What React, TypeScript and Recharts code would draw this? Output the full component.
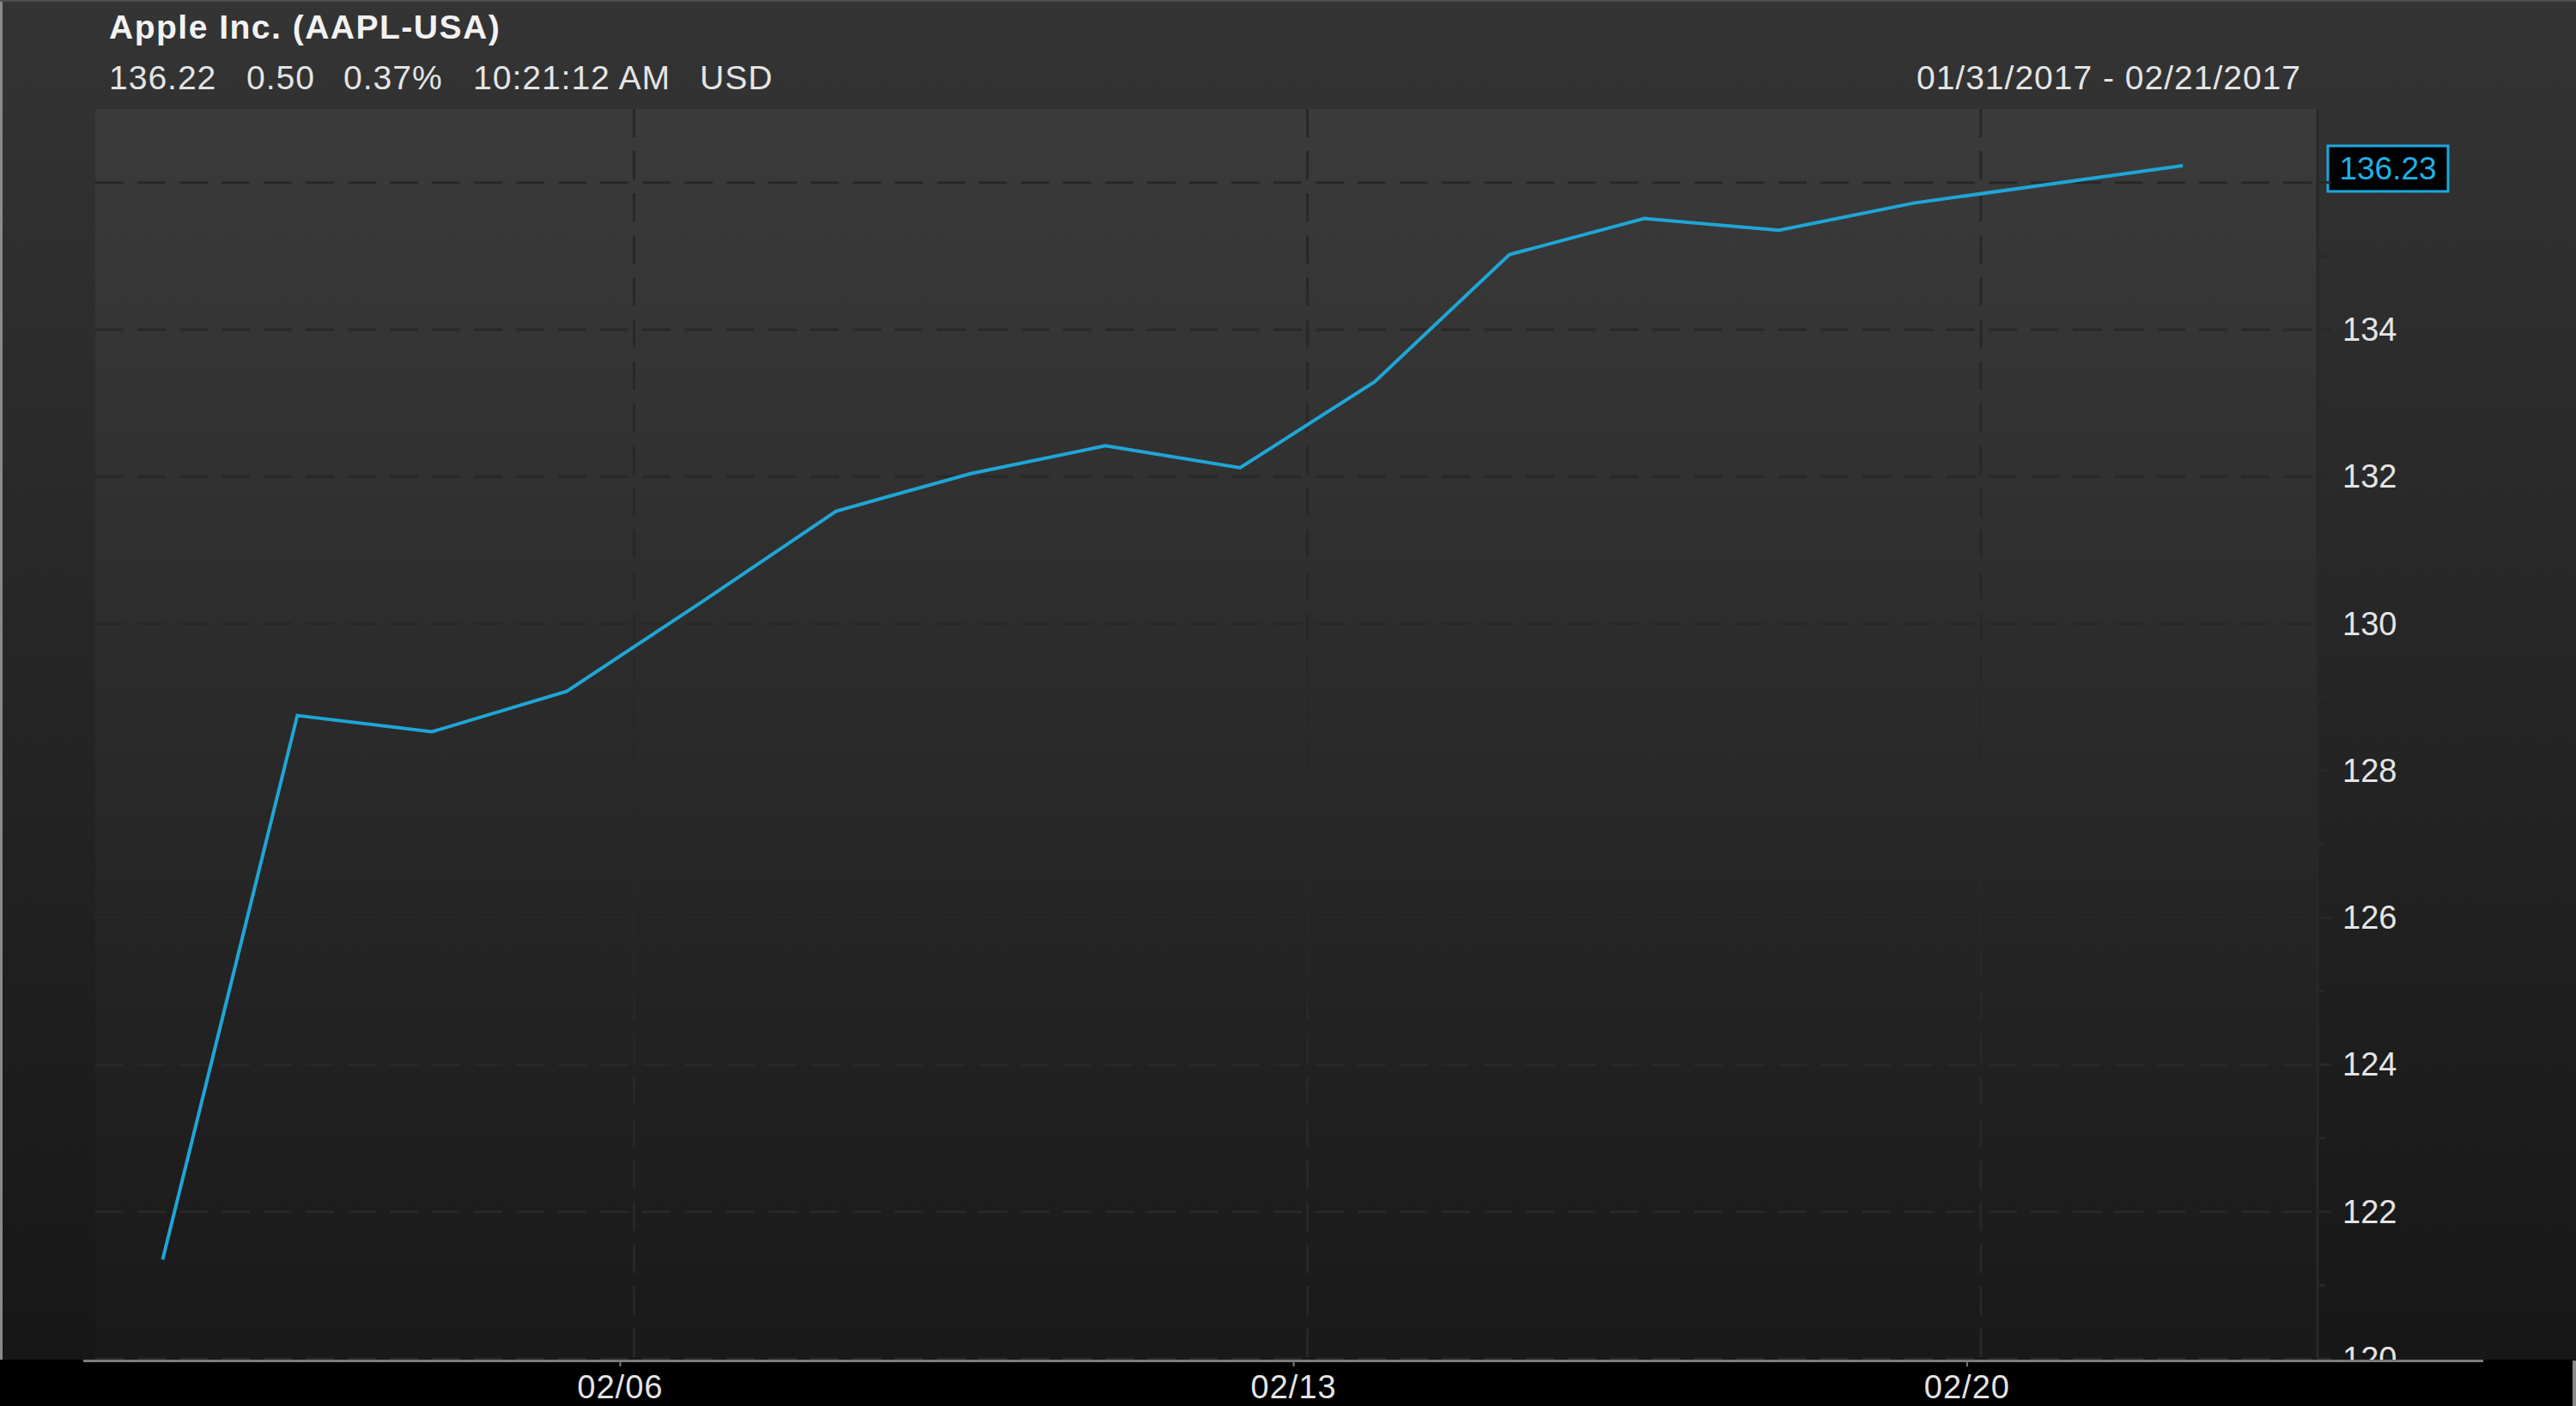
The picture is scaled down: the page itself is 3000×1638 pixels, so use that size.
import React from 'react';
import { LineChart, Line, XAxis, YAxis, CartesianGrid, ReferenceLine } from 'recharts';

// trading-day slots, 02/20 is a market holiday (no close)
const dates = [
  '01/31', '02/01', '02/02', '02/03', '02/06', '02/07', '02/08', '02/09',
  '02/10', '02/13', '02/14', '02/15', '02/16', '02/17', '02/20', '02/21',
];
const closes = [
  121.35, 128.75, 128.53, 129.08, 130.29, 131.53, 132.04, 132.42,
  132.12, 133.29, 135.02, 135.51, 135.35, 135.72, null, 136.23,
];
const weekLabels = ['02/06', '02/13', '02/20'];
const priceTicks = [120, 121, 122, 123, 124, 125, 126, 127, 128, 129, 130, 131, 132, 133, 134, 135, 136];
const gridPrices = [120, 122, 124, 126, 128, 130, 132, 134, 136];

const lastPrice = 136.23;

const data = dates.map((d, i) => ({ idx: i, date: d, close: closes[i] }));
// week boundary sits half a slot before the monday
const weekTicks = weekLabels.map((w) => dates.indexOf(w) - 0.5);

const FONT = '"Liberation Sans", Arial, sans-serif';
const TEXT = '#e4e4e4';
const GRID = '#282828';
const LINE = '#1fa6d6';

const XTick = (props: any) => {
  const { x, y, payload } = props;
  const label = dates[payload.value + 0.5];
  const lx = x - 16;
  return (
    <g>
      <line x1={lx} x2={lx} y1={y + 3} y2={y + 9} stroke="#777" strokeWidth={2} />
      <text x={lx} y={y + 33} textAnchor="middle" dominantBaseline="central" fill={TEXT} fontSize={38} letterSpacing={1} fontFamily={FONT}>
        {label}
      </text>
    </g>
  );
};

const YTick = (props: any) => {
  const { x, y, payload } = props;
  const major = payload.value % 2 === 0;
  // the last-price tag covers the label nearest to it
  const hidden = Math.abs(payload.value - lastPrice) < 0.6;
  return (
    <g clipPath="url(#aboveStrip)">
      <line x1={x} x2={x + (major ? 16 : 9)} y1={y} y2={y} stroke={GRID} strokeWidth={3} />
      {major && !hidden && (
        <text x={x + 29} y={y} textAnchor="start" dominantBaseline="central" fill={TEXT} fontSize={38} fontFamily={FONT}>
          {payload.value}
        </text>
      )}
    </g>
  );
};

const LastTag = (props: any) => {
  const { viewBox } = props;
  const x = viewBox.x + viewBox.width + 12;
  const y = viewBox.y + 3;
  return (
    <g>
      <rect x={x} y={y - 26} width={140} height={53} fill="#000" stroke="#1aa8e0" strokeWidth={3} />
      <text x={x + 70} y={y + 1} textAnchor="middle" dominantBaseline="central" fill="#1cb2ea" fontSize={37} fontFamily={FONT}>
        {lastPrice.toFixed(2)}
      </text>
    </g>
  );
};

const abs = (s: React.CSSProperties): React.CSSProperties => ({
  position: 'absolute', whiteSpace: 'nowrap', fontFamily: FONT, color: TEXT, fontSize: 39, letterSpacing: 1, ...s,
});

export default function App() {
  return (
    <div
      style={{
        position: 'fixed', left: 0, top: 0, width: 3000, height: 1638, overflow: 'hidden',
        background: 'linear-gradient(to bottom, #343434 0px, #171717 1584px, #000 1584px, #000 1638px)',
      }}
    >
      <div style={{ position: 'absolute', left: 0, top: 0, width: 3, height: 1584, background: '#8a8a8a' }} />
      <div style={{ position: 'absolute', left: 0, top: 0, width: 3000, height: 2, background: '#4e4e4e' }} />
      <div style={{ position: 'absolute', left: 2996, top: 1585, width: 4, height: 60, background: '#8a8a8a' }} />

      <div style={abs({ left: 127, top: 10, fontWeight: 'bold', letterSpacing: 1.5, color: '#f2f2f2' })}>Apple Inc. (AAPL-USA)</div>
      <div style={abs({ left: 127, top: 69 })}>136.22</div>
      <div style={abs({ left: 287, top: 69 })}>0.50</div>
      <div style={abs({ left: 400, top: 69 })}>0.37%</div>
      <div style={abs({ left: 551, top: 69 })}>10:21:12 AM</div>
      <div style={abs({ left: 815, top: 69 })}>USD</div>
      <div style={abs({ right: 3000 - 2680, top: 69 })}>01/31/2017 - 02/21/2017</div>

      <div style={{ position: 'absolute', left: 0, top: 0 }}>
        <LineChart width={3000} height={1638} data={data} margin={{ top: 127, right: 0, bottom: 0, left: 111 }}>
          <defs>
            <linearGradient id="plotBg" x1="0" y1="0" x2="0" y2="1">
              <stop offset="0%" stopColor="#3b3b3b" />
              <stop offset="100%" stopColor="#191919" />
            </linearGradient>
            <clipPath id="aboveStrip">
              <rect x={0} y={0} width={3000} height={1584} />
            </clipPath>
          </defs>
          <CartesianGrid
            fill="url(#plotBg)"
            stroke={GRID}
            strokeWidth={3}
            strokeDasharray="33 16"
            horizontalValues={gridPrices}
            verticalValues={weekTicks}
          />
          <XAxis
            dataKey="idx"
            type="number"
            domain={[-0.5, 16]}
            ticks={weekTicks}
            interval={0}
            height={55}
            tickSize={0}
            tickMargin={0}
            axisLine={false}
            tickLine={false}
            tick={<XTick />}
          />
          <YAxis
            orientation="right"
            type="number"
            domain={[120, 137]}
            ticks={priceTicks}
            interval={0}
            width={301}
            tickSize={0}
            tickMargin={0}
            axisLine={{ stroke: GRID, strokeWidth: 3 }}
            tickLine={false}
            tick={<YTick />}
          />
          <ReferenceLine y={lastPrice} stroke="none" label={(p: any) => <LastTag {...p} />} />
          <Line
            type="linear"
            dataKey="close"
            stroke={LINE}
            strokeWidth={4}
            dot={false}
            connectNulls
            isAnimationActive={false}
          />
        </LineChart>
      </div>

      <div style={{ position: 'absolute', left: 97, top: 1584, width: 2795, height: 3, background: '#7a7a7a' }} />
    </div>
  );
}
